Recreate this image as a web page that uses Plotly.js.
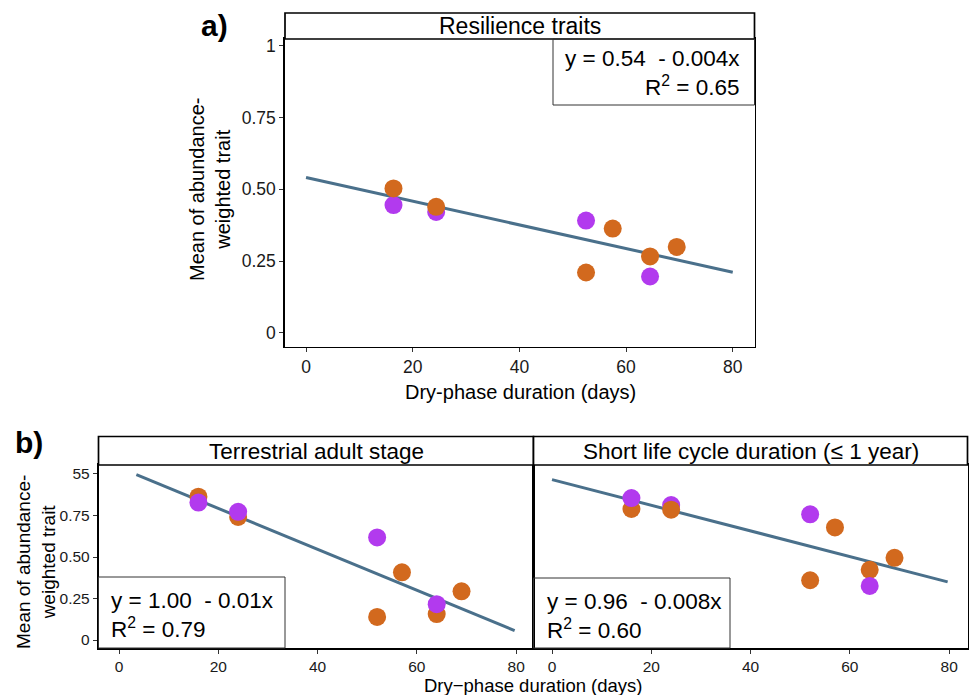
<!DOCTYPE html>
<html>
<head>
<meta charset="utf-8">
<script src="https://cdn.plot.ly/plotly-3.0.1.min.js"></script>
<style>html,body{margin:0;padding:0;background:#fff;}#chart{width:969px;height:695px;}</style>
</head>
<body>
<div id="chart"></div>
<script>
// ---------- data ----------
const groupColors = { O: '#D2691E', P: '#B23AEE' };

// a) Resilience traits
const resX = [16.4, 16.4, 24.4, 24.4, 52.5, 52.5, 57.5, 64.5, 64.5, 69.5];
const resY = [0.445, 0.503, 0.421, 0.439, 0.391, 0.210, 0.363, 0.266, 0.196, 0.299];
const resG = ['P', 'O', 'P', 'O', 'P', 'O', 'O', 'O', 'P', 'O'];
const resFitX = [0, 80];
const resFitY = [0.541, 0.211];

// b) Terrestrial adult stage
const terX = [16, 16, 24, 24, 52, 52, 57, 64, 64, 69];
const terY = [0.863, 0.828, 0.741, 0.772, 0.618, 0.139, 0.408, 0.156, 0.216, 0.293];
const terG = ['O', 'P', 'O', 'P', 'P', 'O', 'O', 'O', 'P', 'O'];
const terFitX = [3.5, 79.7];
const terFitY = [0.996, 0.057];

// b) Short life cycle duration
const shoX = [16, 16, 24, 24, 52, 52, 57, 64, 64, 69];
const shoY = [0.789, 0.855, 0.813, 0.785, 0.757, 0.360, 0.678, 0.423, 0.326, 0.495];
const shoG = ['O', 'P', 'P', 'O', 'P', 'O', 'O', 'O', 'P', 'O'];
const shoFitX = [0, 79.7];
const shoFitY = [0.966, 0.350];

const xTicks = [0, 20, 40, 60, 80];
const yTicks = [0, 0.25, 0.5, 0.75, 1];
const yTickTextA = ['0', '0.25', '0.50', '0.75', '1'];
const yTickTextB = ['0', '0.25', '0.50', '0.75', '55'];

// ---------- figure ----------
const W = 969, H = 695;
const px = v => v / W;
const py = v => 1 - v / H;
const FONT = 'Liberation Sans, Arial, sans-serif';
const lineColor = '#4A708B';

function pts(x, y, g, xa, ya) {
  return { type: 'scatter', mode: 'markers', x: x, y: y, xaxis: xa, yaxis: ya,
    marker: { size: 18, color: g.map(k => groupColors[k]), line: { width: 0 } },
    hoverinfo: 'skip' };
}
function fit(x, y, xa, ya) {
  return { type: 'scatter', mode: 'lines', x: x, y: y, xaxis: xa, yaxis: ya,
    line: { color: lineColor, width: 3 }, hoverinfo: 'skip' };
}

const data = [
  fit(resFitX, resFitY, 'x', 'y'), pts(resX, resY, resG, 'x', 'y'),
  fit(terFitX, terFitY, 'x2', 'y2'), pts(terX, terY, terG, 'x2', 'y2'),
  fit(shoFitX, shoFitY, 'x3', 'y3'), pts(shoX, shoY, shoG, 'x3', 'y3')
];

function xax(domain, range, anchor, fs) {
  return { domain: domain, range: range, anchor: anchor, tickmode: 'array', tickvals: xTicks,
    showline: true, mirror: true, linecolor: '#000', linewidth: 1.7,
    ticks: 'outside', ticklen: 4, tickwidth: 1, tickcolor: '#333',
    tickfont: { family: FONT, size: fs, color: '#1a1a1a' },
    showgrid: false, zeroline: false, fixedrange: true };
}
function yax(domain, range, anchor, fs, ttext, show) {
  return { domain: domain, range: range, anchor: anchor, tickmode: 'array', tickvals: yTicks,
    ticktext: ttext, showticklabels: show,
    showline: true, mirror: true, linecolor: '#000', linewidth: 1.7,
    ticks: show ? 'outside' : '', ticklen: 4, tickwidth: 1, tickcolor: '#333',
    tickfont: { family: FONT, size: fs, color: '#1a1a1a' },
    showgrid: false, zeroline: false, fixedrange: true };
}

const aTop = 39, aBot = 346.5, aL = 285, aR = 754.5;
const bTop = 465, bBot = 648, bL = 98.5, bM = 533.5, bR = 967.5;

const shapes = [
  // strips
  { type: 'rect', xref: 'paper', yref: 'paper', x0: px(aL), x1: px(aR), y0: py(aTop), y1: py(13), line: { color: '#000', width: 1.7 }, fillcolor: '#fff' },
  { type: 'rect', xref: 'paper', yref: 'paper', x0: px(bL), x1: px(bM), y0: py(bTop), y1: py(436.5), line: { color: '#000', width: 1.7 }, fillcolor: '#fff' },
  { type: 'rect', xref: 'paper', yref: 'paper', x0: px(bM), x1: px(bR), y0: py(bTop), y1: py(436.5), line: { color: '#000', width: 1.7 }, fillcolor: '#fff' },
  // equation boxes
  { type: 'rect', xref: 'x domain', yref: 'y domain', x0: (553 - aL) / (aR - aL), x1: 1, y0: (aBot - 105) / (aBot - aTop), y1: 1, line: { color: '#333', width: 1 }, fillcolor: 'rgba(255,255,255,0)' },
  { type: 'rect', xref: 'x2 domain', yref: 'y2 domain', x0: 0, x1: (285 - bL) / (bM - bL), y0: 0, y1: (bBot - 577) / (bBot - bTop), line: { color: '#333', width: 1 }, fillcolor: 'rgba(255,255,255,0)' },
  { type: 'rect', xref: 'x3 domain', yref: 'y3 domain', x0: 0, x1: (730 - bM) / (bR - bM), y0: 0, y1: (bBot - 578) / (bBot - bTop), line: { color: '#333', width: 1 }, fillcolor: 'rgba(255,255,255,0)' }
];

const ann = (o) => Object.assign({ xref: 'paper', yref: 'paper', showarrow: false, xanchor: 'center', yanchor: 'middle' }, o);
const annotations = [
  ann({ x: px(214), y: py(25), text: '<b>a)</b>', font: { family: FONT, size: 30, color: '#000' } }),
  ann({ x: px(29), y: py(442), text: '<b>b)</b>', font: { family: FONT, size: 30, color: '#000' } }),
  ann({ x: px((aL + aR) / 2), y: py(26.5), text: 'Resilience traits', font: { family: FONT, size: 23, color: '#000' } }),
  ann({ x: px((bL + bM) / 2), y: py(451), text: 'Terrestrial adult stage', font: { family: FONT, size: 22.5, color: '#000' } }),
  ann({ x: px((bM + bR) / 2), y: py(451), text: 'Short life cycle duration (≤ 1 year)', font: { family: FONT, size: 22.5, color: '#000' } }),
  // equations
  ann({ xref: 'x domain', yref: 'y domain', x: (742 - aL) / (aR - aL), y: (aBot - 73.5) / (aBot - aTop), xanchor: 'right', align: 'right',
        text: 'y = 0.54&nbsp; - 0.004x<br>R<sup>2</sup> = 0.65', font: { family: FONT, size: 22.5, color: '#000' } }),
  ann({ xref: 'x2 domain', yref: 'y2 domain', x: (109 - bL) / (bM - bL), y: (bBot - 615) / (bBot - bTop), xanchor: 'left', align: 'left',
        text: 'y = 1.00&nbsp; - 0.01x<br>R<sup>2</sup> = 0.79', font: { family: FONT, size: 22.5, color: '#000' } }),
  ann({ xref: 'x3 domain', yref: 'y3 domain', x: (545 - bM) / (bR - bM), y: (bBot - 616) / (bBot - bTop), xanchor: 'left', align: 'left',
        text: 'y = 0.96&nbsp; - 0.008x<br>R<sup>2</sup> = 0.60', font: { family: FONT, size: 22.5, color: '#000' } }),
  // axis titles
  ann({ x: px(520), y: py(392), text: 'Dry-phase duration (days)', font: { family: FONT, size: 20, color: '#000' } }),
  ann({ x: px(210), y: py(190), textangle: -90, text: 'Mean of abundance-<br>weighted trait', font: { family: FONT, size: 20, color: '#000' } }),
  ann({ x: px(533.5), y: py(685), text: 'Dry−phase duration (days)', font: { family: FONT, size: 18.5, color: '#000' } }),
  ann({ x: px(36), y: py(562), textangle: -90, text: 'Mean of abundance-<br>weighted trait', font: { family: FONT, size: 19, color: '#000' } })
];

const layout = {
  width: W, height: H, margin: { l: 0, r: 0, t: 0, b: 0 },
  paper_bgcolor: '#fff', plot_bgcolor: '#fff', showlegend: false,
  font: { family: FONT },
  xaxis: xax([px(aL), px(aR)], [-3.94, 84.08], 'y', 17.5),
  yaxis: yax([py(aBot), py(aTop)], [-0.048, 1.024], 'x', 17.5, yTickTextA, true),
  xaxis2: xax([px(bL), px(bM)], [-4.13, 83.5], 'y2', 15.5),
  yaxis2: yax([py(bBot), py(bTop)], [-0.048, 1.054], 'x2', 15.5, yTickTextB, true),
  xaxis3: xax([px(bM), px(bR)], [-3.73, 83.7], 'y3', 15.5),
  yaxis3: yax([py(bBot), py(bTop)], [-0.048, 1.054], 'x3', 15.5, yTickTextB, false),
  shapes: shapes, annotations: annotations
};

Plotly.newPlot('chart', data, layout, { staticPlot: true, displayModeBar: false });
</script>
</body>
</html>
